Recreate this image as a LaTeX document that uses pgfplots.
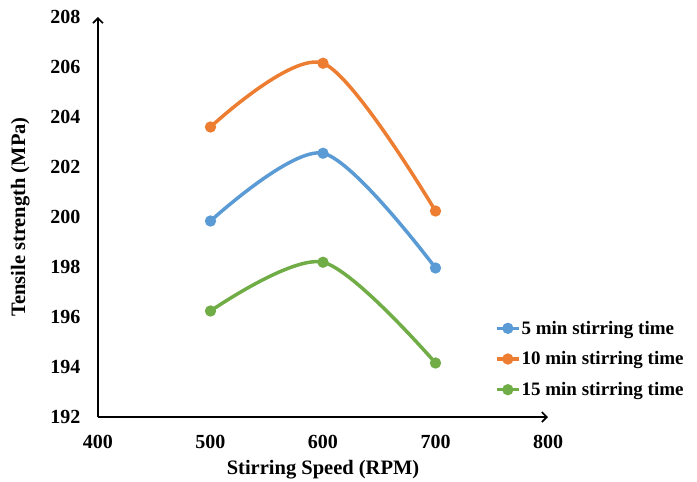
\documentclass[border=0pt]{standalone}
\usepackage{fontspec}
\setmainfont{Liberation Serif}
\usepackage{pgfplots}
\pgfplotsset{compat=1.18}
\usetikzlibrary{arrows.meta}

\definecolor{cblue}{HTML}{5B9BD5}
\definecolor{corange}{HTML}{ED7D31}
\definecolor{cgreen}{HTML}{70AD47}

\begin{document}
\begin{tikzpicture}
\begin{axis}[
    name=ax,
    scale only axis,
    width=450pt, height=400pt,
    xmin=400, xmax=800, ymin=192, ymax=208,
    xtick={400,500,...,800},
    ytick={192,194,...,208},
    axis lines=left,
    axis line style={line width=1.6pt, -{Straight Barb[length=5pt,width=10pt,line width=1.6pt]}},
    major tick length=0pt,
    /pgf/number format/assume math mode=true,
    tick label style={font=\bfseries\fontsize{20}{20}\selectfont},
    xticklabel style={yshift=-15pt},
    yticklabel style={xshift=-14pt},
    xlabel={\textbf{Stirring Speed (RPM)}},
    ylabel={\textbf{Tensile strength (MPa)}},
    label style={font=\bfseries\fontsize{20.5}{20.5}\selectfont},
    xlabel style={yshift=-4pt},
    ylabel style={yshift=14pt},
    legend style={draw=none, fill=none, at={(0.882,0.243)}, anchor=north west,
        font=\bfseries\fontsize{19}{19}\selectfont, row sep=14pt,
        inner sep=0pt, nodes={inner sep=1pt}},
    legend cell align=left,
    legend image code/.code={
        \draw[mark repeat=2, mark phase=2] plot coordinates {(0pt,0pt) (11pt,0pt) (22pt,0pt)};
    },
    every axis plot/.append style={line width=3.5pt, smooth, mark=*, mark size=3.8pt},
]
\addplot[cblue, mark options={fill=cblue}] coordinates {(500,199.84) (600,202.55) (700,197.96)};
\addlegendentry{5 min stirring time}
\addplot[corange, mark options={fill=corange}] coordinates {(500,203.6) (600,206.15) (700,200.24)};
\addlegendentry{10 min stirring time}
\addplot[cgreen, mark options={fill=cgreen}] coordinates {(500,196.24) (600,198.19) (700,194.16)};
\addlegendentry{15 min stirring time}
\end{axis}
\path[use as bounding box] (ax.south west) ++(-98pt,-62pt) rectangle ++(697pt,479pt);
\end{tikzpicture}
\end{document}
